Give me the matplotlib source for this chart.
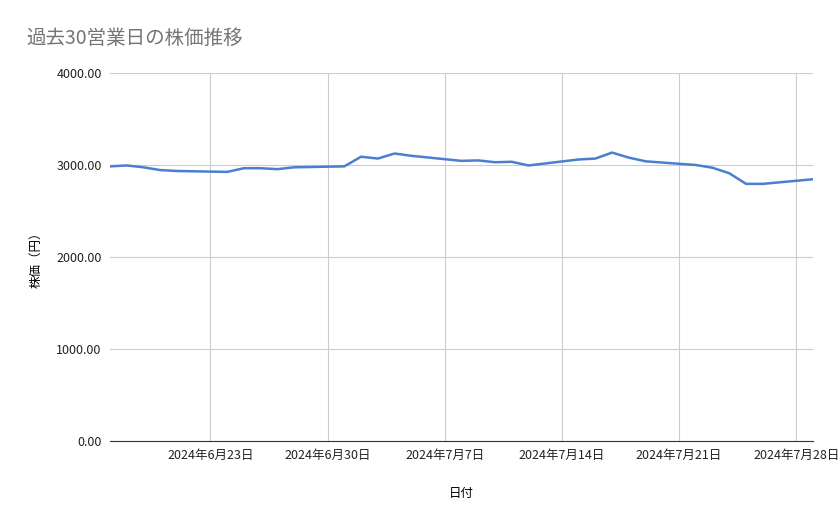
import numpy as np
import pandas as pd
import matplotlib.pyplot as plt
import matplotlib.dates as mdates
from matplotlib.ticker import FuncFormatter

plt.rcParams['font.family'] = ['Noto Sans CJK JP', 'DejaVu Sans']

dates = pd.to_datetime([
    "2024-06-17", "2024-06-18", "2024-06-19", "2024-06-20", "2024-06-21",
    "2024-06-24", "2024-06-25", "2024-06-26", "2024-06-27", "2024-06-28",
    "2024-07-01", "2024-07-02", "2024-07-03", "2024-07-04", "2024-07-05",
    "2024-07-08", "2024-07-09", "2024-07-10", "2024-07-11", "2024-07-12",
    "2024-07-15", "2024-07-16", "2024-07-17", "2024-07-18", "2024-07-19",
    "2024-07-22", "2024-07-23", "2024-07-24", "2024-07-25", "2024-07-26",
    "2024-07-29",
])
prices = [2985, 2995, 2975, 2945, 2935,
          2925, 2965, 2965, 2955, 2975,
          2985, 3090, 3070, 3125, 3100,
          3045, 3050, 3030, 3035, 2995,
          3060, 3070, 3135, 3080, 3040,
          3000, 2970, 2910, 2795, 2795,
          2845]
tick_dates = pd.to_datetime(["2024-06-23", "2024-06-30", "2024-07-07",
                             "2024-07-14", "2024-07-21", "2024-07-28"])

fig = plt.figure(figsize=(8.39, 5.19), dpi=100)
ax = fig.add_axes([110 / 839, 1 - 441 / 519, 703 / 839, 368 / 519])
ax.plot(dates, prices, color="#4a7fd0", linewidth=1.8)

ax.set_xlim(dates[0], dates[-1])
ax.set_ylim(0, 4000)
ax.set_yticks([0, 1000, 2000, 3000, 4000])
ax.yaxis.set_major_formatter(FuncFormatter(lambda v, p: f"{v:.2f}"))
ax.set_xticks(tick_dates)
ax.xaxis.set_major_formatter(FuncFormatter(
    lambda v, p: (lambda d: f"{d.year}年{d.month}月{d.day}日")(mdates.num2date(v))))
ax.grid(True, color="#cccccc", linewidth=0.8)
ax.set_axisbelow(True)
for s in ["top", "right", "left"]:
    ax.spines[s].set_visible(False)
ax.spines["bottom"].set_color("#333333")
ax.tick_params(length=0, labelsize=9, colors="#222222", pad=6)

ax.set_xlabel("日付", fontsize=9, labelpad=18)
ax.set_ylabel("株価（円）", fontsize=9, labelpad=10)
fig.text(26 / 839, 1 - 38 / 519, "過去30営業日の株価推移", fontsize=14, color="#757575", va="center")

fig.savefig("out.png", dpi=100)
